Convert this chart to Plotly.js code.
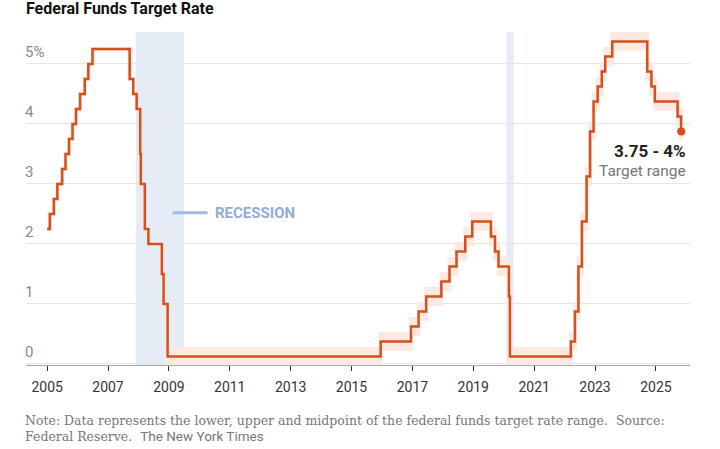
<!DOCTYPE html>
<html>
<head>
<meta charset="utf-8">
<script src="https://cdn.plot.ly/plotly-3.0.1.min.js"></script>
<style>
  html, body { margin: 0; padding: 0; background: #fff; }
  #chart { width: 720px; height: 449px; }
</style>
</head>
<body>
<div id="chart"></div>
<script>
// Federal funds target rate changes (date of change, lower, upper of range)
const changeDates = [
  '2005-01-01','2005-02-02','2005-03-22','2005-05-03','2005-06-30','2005-08-09','2005-09-20',
  '2005-11-01','2005-12-13','2006-01-31','2006-03-28','2006-05-10','2006-06-29',
  '2007-09-18','2007-10-31','2007-12-11','2008-01-22','2008-01-30','2008-03-18','2008-04-30',
  '2008-10-08','2008-10-29','2008-12-16','2015-12-17','2016-12-15','2017-03-16','2017-06-15',
  '2017-12-14','2018-03-22','2018-06-14','2018-09-27','2018-12-20','2019-08-01','2019-09-19',
  '2019-10-31','2020-03-04','2020-03-16','2022-03-17','2022-05-05','2022-06-16','2022-07-28',
  '2022-09-22','2022-11-03','2022-12-15','2023-02-02','2023-03-23','2023-05-04','2023-07-27',
  '2024-09-19','2024-11-08','2024-12-19','2025-09-18','2025-10-30','2025-11-01'
];
const lowerRate = [
  2.25,2.50,2.75,3.00,3.25,3.50,3.75,4.00,4.25,4.50,4.75,5.00,5.25,
  4.75,4.50,4.25,3.50,3.00,2.25,2.00,1.50,1.00,0.00,0.25,0.50,0.75,1.00,
  1.25,1.50,1.75,2.00,2.25,2.00,1.75,1.50,1.00,0.00,0.25,0.75,1.50,2.25,
  3.00,3.75,4.25,4.50,4.75,5.00,5.25,4.75,4.50,4.25,4.00,3.75,3.75
];
const upperRate = [
  2.25,2.50,2.75,3.00,3.25,3.50,3.75,4.00,4.25,4.50,4.75,5.00,5.25,
  4.75,4.50,4.25,3.50,3.00,2.25,2.00,1.50,1.00,0.25,0.50,0.75,1.00,1.25,
  1.50,1.75,2.00,2.25,2.50,2.25,2.00,1.75,1.25,0.25,0.50,1.00,1.75,2.50,
  3.25,4.00,4.50,4.75,5.00,5.25,5.50,5.00,4.75,4.50,4.25,4.00,4.00
];
const midRate = lowerRate.map((v, i) => (v + upperRate[i]) / 2);

const recessions = [['2007-12-01','2009-06-30'], ['2020-02-01','2020-04-30']];

const xTickVals = ['2005-01-01','2007-01-01','2009-01-01','2011-01-01','2013-01-01','2015-01-01',
                   '2017-01-01','2019-01-01','2021-01-01','2023-01-01','2025-01-01'];
const xTickText = ['2005','2007','2009','2011','2013','2015','2017','2019','2021','2023','2025'];
const yTickVals = [0, 1, 2, 3, 4, 5];
const yTickText = ['0', '1', '2', '3', '4', '5%'];

const lineColor = '#d5501c';
const bandColor = '#fbe9e2';
const sans = 'Roboto, "Liberation Sans", Arial, sans-serif';
const serif = '"DejaVu Serif", "Liberation Serif", serif';

const lastIdx = changeDates.length - 1;

const traces = [
  { x: changeDates, y: lowerRate, type: 'scatter', mode: 'lines', line: { shape: 'hv', color: bandColor, width: 4 }, hoverinfo: 'skip', showlegend: false },
  { x: changeDates, y: upperRate, type: 'scatter', mode: 'lines', line: { shape: 'hv', color: bandColor, width: 4 }, fill: 'tonexty', fillcolor: bandColor, hoverinfo: 'skip', showlegend: false },
  { x: changeDates, y: midRate, type: 'scatter', mode: 'lines', line: { shape: 'hv', color: lineColor, width: 2.5 }, showlegend: false },
  { x: [changeDates[lastIdx]], y: [midRate[lastIdx]], type: 'scatter', mode: 'markers', marker: { color: lineColor, size: 8 }, showlegend: false }
];

const shapes = recessions.map(r => ({
  type: 'rect', xref: 'x', yref: 'paper', x0: r[0], x1: r[1], y0: 0, y1: 1,
  fillcolor: '#e5ecf5', line: { width: 0 }, layer: 'below'
}));
shapes.push({ type: 'line', xref: 'x', yref: 'y', x0: '2009-02-15', x1: '2010-04-10', y0: 2.52, y1: 2.52,
  line: { color: '#a3badc', width: 3 } });

const annotations = yTickVals.map((v, i) => ({
  xref: 'paper', yref: 'y', x: 0, y: v, xanchor: 'left', yanchor: 'bottom', xshift: -3, yshift: 1,
  text: yTickText[i], showarrow: false, font: { family: sans, size: 15, color: '#8a8a8a' }
}));
annotations.push(
  { xref: 'x', yref: 'y', x: '2010-06-10', y: 2.52, xanchor: 'left', yanchor: 'middle', text: '<b>RECESSION</b>',
    showarrow: false, font: { family: sans, size: 15, color: '#94acd3' } },
  { xref: 'x', yref: 'y', x: changeDates[lastIdx], y: 3.55, xanchor: 'right', yanchor: 'middle', xshift: 7,
    text: '<b>3.75 - 4%</b>', showarrow: false, font: { family: sans, size: 17, color: '#222' } },
  { xref: 'x', yref: 'y', x: changeDates[lastIdx], y: 3.22, xanchor: 'right', yanchor: 'middle', xshift: 7,
    text: 'Target range', showarrow: false, font: { family: sans, size: 15.5, color: '#777' } },
  { xref: 'paper', yref: 'paper', x: 0, y: 0, xanchor: 'left', yanchor: 'middle', xshift: -3, yshift: -55,
    text: 'Note: Data represents the lower, upper and midpoint of the federal funds target rate range.  Source:',
    showarrow: false, font: { family: serif, size: 12.5, color: '#777' } },
  { xref: 'paper', yref: 'paper', x: 0, y: 0, xanchor: 'left', yanchor: 'middle', xshift: -3, yshift: -71,
    text: 'Federal Reserve.  <span style="font-family:Roboto, Liberation Sans, sans-serif;font-size:13.5px">The New York Times</span>',
    showarrow: false, font: { family: serif, size: 12.5, color: '#777' } }
);

const layout = {
  width: 720, height: 449,
  margin: { l: 26, r: 30, t: 32, b: 84 },
  paper_bgcolor: '#fff', plot_bgcolor: '#fff',
  title: { text: '<b>Federal Funds Target Rate</b>', xref: 'container', yref: 'container', x: 26 / 720, xanchor: 'left',
    y: 1 - 3 / 449, yanchor: 'top', font: { family: sans, size: 16, color: '#121212' } },
  xaxis: {
    type: 'date', range: ['2004-04-22', '2026-02-14'],
    tickvals: xTickVals, ticktext: xTickText,
    showgrid: false, zeroline: false,
    showline: true, linecolor: '#aaa', linewidth: 1,
    ticks: 'outside', ticklen: 5, tickcolor: '#333', tickwidth: 1,
    ticklabelstandoff: 4,
    tickfont: { family: sans, size: 14, color: '#333' }
  },
  yaxis: {
    range: [-0.017, 5.533], tickvals: yTickVals, showticklabels: false,
    showgrid: true, gridcolor: '#e6e6e6', gridwidth: 1, zeroline: false, ticks: ''
  },
  shapes: shapes,
  annotations: annotations,
  showlegend: false
};

Plotly.newPlot('chart', traces, layout, { displayModeBar: false, staticPlot: true });
</script>
</body>
</html>
